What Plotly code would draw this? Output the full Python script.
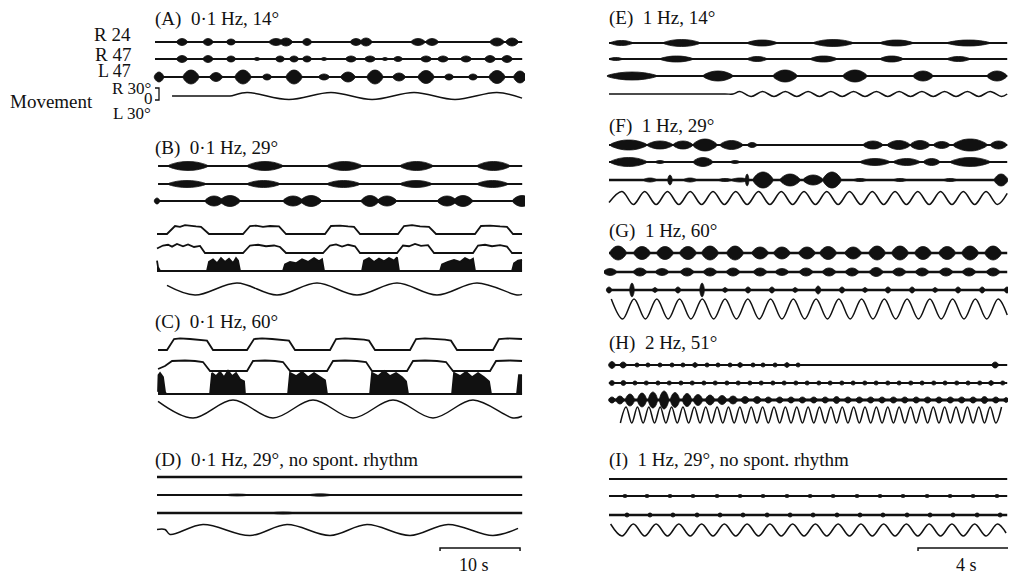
import plotly.graph_objects as go

# ============================ DATA ============================
# Burst traces : (centre time s, half-width s, envelope amplitude)
# Level traces : (time s, level 0..1)
# Movement     : (time s, normalised displacement, +1 = towards R)

# ---- (A) 0·1 Hz, 14° ----
A_SPAN = (0.0, 45.9)
A_R24 = [(3.38,0.7,3.5),(6.63,0.65,3.5),(9.5,0.6,3),(15.13,0.9,3.5),(16.38,0.8,4),(19.0,0.6,3.5),
         (25.13,0.75,3.5),(26.38,0.75,4),(32.88,0.9,3.5),(34.63,0.8,3.5),(42.75,0.9,4),(44.63,0.8,4)]
A_R47 = [(3.38,0.7,3.5),(6.63,0.65,3.5),(9.5,0.6,3),(12.75,0.4,1.5),(15.63,0.6,3),(17.38,0.6,3),
         (19.0,0.6,3),(21.13,0.4,1.5),(24.5,0.7,3),(26.88,0.7,3),(28.75,0.4,1.5),(30.38,0.6,2.5),
         (33.88,0.7,3),(36.0,0.7,3),(38.88,0.7,3),(41.88,0.7,3.5),(44.0,0.7,3.5)]
A_L47 = [(0.5,0.6,5),(4.5,1.0,7),(7.63,0.8,4.5),(11.0,1.0,7),(14.0,0.6,3),(17.38,1.0,7),(21.13,0.7,3),
         (24.13,0.9,5),(27.5,1.0,7),(30.5,0.8,4),(33.88,1.0,6.5),(36.75,0.6,3),(39.75,0.6,3),
         (42.75,1.0,6.5),(45.63,0.8,6)]
A_MOV = [(2.13,0),(8.8,0),(9.38,0),(11.5,1),(16.75,-1),(22.0,1),(27.13,-1),(32.38,1),(37.5,-1),(42.75,1),(45.88,-0.6)]

# ---- (B) 0·1 Hz, 29° ----
B_SPAN = (0.38, 45.9)
B_R24 = [(4.13,2.5,4.5),(13.75,2.25,4.5),(23.69,2.19,4.5),(32.69,2.06,4.5),(42.31,2.06,4.5)]
B_R47 = [(4.0,2.38,3.5),(13.56,2.06,3.5),(23.56,2.06,3.5),(32.63,2.0,3.5),(42.19,1.94,3.5)]
B_L47 = [(0.25,0.35,3),(7.38,1.13,5),(9.38,1.25,5.5),(17.25,1.25,5),(19.5,1.3,5.5),(26.88,1.1,5.5),
         (29.0,1.2,5),(36.5,1.2,5),(38.5,1.2,5.5),(45.88,1.2,5.5)]
B_AN1 = [(0.25,0),(1.5,0),(2.5,1),(3.13,0.9),(3.75,1.1),(4.38,1.0),(5.13,0.95),(5.75,0.9),(6.75,0),
         (11.0,0),(11.88,1),(12.63,1.05),(13.5,0.9),(14.38,1.0),(15.5,0.95),(16.38,0),
         (21.25,0),(22.0,1),(23.13,1.05),(24.13,0.95),(24.88,0.9),(25.63,0),
         (30.38,0),(31.13,1),(32.13,1.1),(33.13,0.95),(34.25,0.9),(35.13,0),
         (40.0,0),(40.75,1),(41.88,1.05),(43.13,0.95),(44.0,0.9),(44.75,0),(45.88,0)]
B_AN2 = [(0.25,0.6),(1.0,1),(1.63,1.1),(2.13,0.85),(2.75,1.2),(3.5,0.9),(4.13,1.15),(4.88,0.8),(5.63,0.95),(6.25,0),
         (11.0,0),(11.88,1),(12.88,1.1),(13.88,0.9),(14.88,1.0),(15.63,0.8),(16.38,0),
         (21.0,0),(21.88,1),(22.63,1.15),(23.38,0.85),(24.13,1.1),(25.0,0.9),(25.63,0),
         (30.25,0),(31.0,1),(31.75,0.9),(32.5,1.2),(33.25,0.95),(34.13,1.05),(34.88,0),
         (39.75,0),(40.38,1),(41.25,1.1),(42.13,0.9),(43.13,1.05),(44.0,0.85),(44.63,0),(45.88,0)]
B_AN3 = [(0.25,0.8),(0.38,0.3),(0.63,0),(6.5,0),(6.75,0.7),(7.25,0.9),(7.75,0.6),(8.25,1.0),(8.75,0.7),
         (9.25,0.95),(9.75,0.6),(10.13,1.0),(10.38,0.8),(10.63,0),
         (16.0,0),(16.25,0.5),(16.88,0.7),(17.63,0.6),(18.38,0.9),(19.13,0.7),(19.88,1.0),(20.5,0.75),(20.88,0.9),(21.13,0),
         (25.88,0),(26.13,0.8),(26.75,1.0),(27.38,0.7),(28.0,0.95),(28.63,0.75),(29.25,1.0),(29.88,0.8),(30.25,1.05),(30.5,0),
         (35.63,0),(35.88,0.5),(36.63,0.7),(37.38,0.85),(38.13,0.7),(38.75,1.0),(39.38,0.8),(39.75,0.95),(40.0,0),
         (44.63,0),(44.88,0.6),(45.38,0.8),(45.88,0.85)]
B_MOV = [(1.5,0.6),(5.0,-1),(10.25,1),(15.25,-1),(20.25,1),(25.25,-1),(30.25,1),(35.25,-1),(40.25,1),(45.25,-1),(45.88,-0.9)]

# ---- (C) 0·1 Hz, 60° ----
C_AN1 = [(0.38,0),(1.5,0),(2.38,1),(3.13,1.05),(4.38,1.0),(5.63,0.95),(6.5,0.85),(7.25,0),
         (11.5,0),(12.38,1),(13.38,1.05),(14.63,1.0),(15.88,0.95),(16.75,0.85),(17.5,0),
         (21.88,0),(22.63,1),(23.75,1.05),(25.0,1.0),(26.13,0.95),(26.75,0.85),(27.5,0),
         (31.88,0),(32.63,1),(33.75,1.05),(35.0,1.0),(36.25,0.95),(37.0,0.85),(37.75,0),
         (42.25,0),(43.0,1),(44.13,1.05),(45.88,1.0)]
C_AN2 = [(0.38,0.2),(1.25,0.5),(2.13,1),(3.75,1.05),(5.0,1.0),(6.0,0.9),(6.88,0),
         (11.5,0),(12.25,1),(13.75,1.05),(15.0,1.0),(16.0,0.9),(16.88,0),
         (21.5,0),(22.25,1),(23.75,1.05),(25.25,1.0),(26.38,0.9),(27.13,0),
         (31.5,0),(32.25,1),(33.75,1.05),(35.25,1.0),(36.38,0.9),(37.25,0),
         (41.88,0),(42.63,1),(44.38,1.05),(45.88,1.0)]
C_AN3 = [(0.38,0.1),(0.44,0.9),(0.63,1.0),(1.0,0.8),(1.25,0.1),(1.38,0),
         (6.88,0),(7.13,1.0),(7.63,0.85),(8.13,1.05),(8.63,0.8),(9.13,1.1),(9.63,0.85),(10.13,1.0),(10.63,0.7),(11.13,0.6),(11.25,0),
         (16.63,0),(16.88,1.0),(17.63,0.85),(18.38,1.05),(19.13,0.8),(19.88,1.0),(20.63,0.8),(21.25,0.65),(21.5,0),
         (26.88,0),(27.13,1.0),(27.88,0.85),(28.63,1.1),(29.38,0.85),(30.13,1.0),(30.88,0.8),(31.38,0.6),(31.63,0),
         (37.13,0),(37.38,1.0),(38.13,0.85),(38.88,1.05),(39.63,0.8),(40.38,1.0),(41.13,0.8),(41.75,0.6),(42.0,0),
         (45.25,0),(45.5,0.9),(45.88,0.9)]
C_MOV = [(0.38,0.85),(4.75,-1),(9.75,1),(14.75,-1),(19.75,1),(24.75,-1),(29.75,1),(34.75,-1),(39.75,1),(44.75,-1),(45.88,-0.8)]

# ---- (D) 0·1 Hz, 29°, no spont. rhythm ----
D_SPAN = (0.25, 45.9)
D_R24 = []
D_R47 = [(10.25,1.5,1.0),(20.63,1.5,1.2)]
D_L47 = [(16.0,1.5,1.0)]
D_MOV = [(0.25,0.1),(1.25,0.1),(1.88,-0.8),(6.0,1),(11.88,-1),(16.5,1),(21.88,-1),(26.5,1),(31.88,-1),
         (36.63,1),(42.25,-1),(45.38,0.3)]

# ---- (E) 1 Hz, 14° ----
R_SPAN = (0.0, 17.5)
E_R24 = [(0.55,0.5,2.5),(3.19,0.81,3.5),(6.73,0.66,3),(9.85,0.88,3.5),(12.64,0.73,3),(15.8,0.95,3)]
E_R47 = [(0.3,0.3,1.5),(2.97,0.73,3),(6.51,0.44,2.5),(9.43,0.59,3),(12.42,0.51,3),(15.36,0.51,2.5)]
E_L47 = [(1.01,1.1,4),(4.79,0.66,5),(7.74,0.53,6),(10.81,0.53,6),(13.8,0.44,5),(17.05,0.44,5)]
E_MOV = [(0,0),(5.1,0),(5.45,0),(5.75,1),(6.25,-1),(6.75,1),(7.25,-1),(7.75,1),(8.25,-1),(8.75,1),(9.25,-1),(9.75,1),
         (10.25,-1),(10.75,1),(11.25,-1),(11.75,1),(12.25,-1),(12.75,1),(13.25,-1),(13.75,1),(14.25,-1),
         (14.75,1),(15.25,-1),(15.75,1),(16.25,-1),(16.75,1),(17.25,-1),(17.5,0)]

# ---- (F) 1 Hz, 29° ----
F_R24 = [(0.86,0.81,5),(2.24,0.57,4),(3.25,0.44,4),(4.22,0.53,6),(5.38,0.51,4.5),(6.29,0.22,2.5),
         (11.6,0.44,4),(12.73,0.51,4.5),(13.67,0.44,4.5),(14.62,0.37,3.5),(15.87,0.75,6),(17.12,0.37,4)]
F_R47 = [(0.86,0.81,4.5),(2.24,0.22,1.5),(4.13,0.44,4.5),(5.54,0.22,1.5),(11.69,0.66,3.5),(13.08,0.59,3.5),
         (14.18,0.37,3.5),(15.87,0.88,4.5)]
F_L47 = [(1.8,0.3,2),(2.68,0.1,5),(3.56,0.3,2),(5.1,0.3,1.5),(5.76,0.4,2),(6.07,0.08,6),(6.77,0.44,8),
         (7.96,0.44,6),(8.97,0.44,5),(9.8,0.4,8),(11.03,0.3,1.5),(12.79,0.3,1.5),(14.99,0.3,1.5),(17.23,0.3,6)]
F_MOV = [(0.0,-0.7),(0.57,1),(1.07,-1),(1.57,1),(2.07,-1),(2.57,1),(3.07,-1),(3.57,1),(4.07,-1),(4.57,1),
         (5.07,-1),(5.57,1),(6.07,-1),(6.57,1),(7.07,-1),(7.57,1),(8.07,-1),(8.57,1),(9.07,-1),(9.57,1),
         (10.07,-1),(10.57,1),(11.07,-1),(11.57,1),(12.07,-1),(12.57,1),(13.07,-1),(13.57,1),(14.07,-1),
         (14.57,1),(15.07,-1),(15.57,1),(16.07,-1),(16.57,1),(17.07,-1),(17.5,0.7)]

# ---- (G) 1 Hz, 60° ----
G_R24 = [(0.40,0.36,7),(1.45,0.36,6.5),(2.46,0.36,6.5),(3.47,0.36,6.5),(4.44,0.36,7),(5.54,0.36,7),
         (6.64,0.36,6),(7.60,0.36,6),(8.70,0.36,6),(9.63,0.36,6.5),(10.73,0.36,6),(11.78,0.36,7),
         (12.79,0.36,7),(13.80,0.36,6.5),(14.86,0.36,6.5),(15.87,0.36,7),(16.88,0.36,7)]
G_R47 = [(0.05,0.3,3.5),(1.36,0.3,4),(2.33,0.3,3.5),(3.43,0.3,4),(4.44,0.3,4),(5.45,0.3,4),(6.64,0.3,4),
         (7.6,0.3,3.5),(8.66,0.3,4),(9.67,0.3,4),(10.68,0.3,4),(11.74,0.3,4.5),(12.75,0.3,4),(13.76,0.3,4),
         (14.81,0.3,4),(15.82,0.3,4),(16.88,0.3,4)]
G_L47 = [(0.0,0.12,3),(1.01,0.1,7),(2.02,0.12,2.5),(3.03,0.12,3),(4.09,0.1,7),(5.1,0.12,2.5),(6.11,0.12,3),
         (7.16,0.12,3),(8.18,0.12,2.5),(9.19,0.12,4),(10.24,0.12,3),(11.25,0.12,2.5),(12.26,0.12,3),
         (13.32,0.12,3),(14.33,0.12,2.5),(15.34,0.12,3),(16.4,0.12,3),(17.49,0.12,3)]
G_MOV = [(0.1,1),(0.6,-1),(1.1,1),(1.6,-1),(2.1,1),(2.6,-1),(3.1,1),(3.6,-1),(4.1,1),(4.6,-1),(5.1,1),(5.6,-1),
         (6.1,1),(6.6,-1),(7.1,1),(7.6,-1),(8.1,1),(8.6,-1),(9.1,1),(9.6,-1),(10.1,1),(10.6,-1),(11.1,1),
         (11.6,-1),(12.1,1),(12.6,-1),(13.1,1),(13.6,-1),(14.1,1),(14.6,-1),(15.1,1),(15.6,-1),(16.1,1),
         (16.6,-1),(17.1,1),(17.5,-0.6)]

# ---- (H) 2 Hz, 51° ----
H_R24 = [(0.13,0.15,3.5),(0.62,0.15,3),(1.23,0.12,2),(1.71,0.12,2),(2.24,0.12,2),(2.77,0.12,2),(3.25,0.12,2),
         (3.78,0.12,2.5),(4.31,0.12,2),(4.79,0.12,2),(5.32,0.12,2),(5.76,0.12,2.5),(6.33,0.12,2),(6.77,0.12,2),
         (7.3,0.12,2),(7.82,0.12,2.5),(8.31,0.12,2),(16.97,0.15,3)]
H_R47 = [(0.13,0.13,2.5),(0.63,0.13,2.5),(1.14,0.12,2),(1.64,0.12,2),(2.15,0.12,2),(2.65,0.12,2),(3.16,0.12,2),
         (3.66,0.12,2),(4.17,0.12,2),(4.67,0.12,2),(5.18,0.12,2),(5.68,0.12,2),(6.19,0.12,2),(6.69,0.12,2),
         (7.2,0.12,2),(7.7,0.12,2),(8.21,0.12,2),(8.71,0.12,2),(9.22,0.12,2),(9.72,0.12,2),(10.23,0.12,2),
         (10.73,0.12,2),(11.24,0.12,2),(11.74,0.12,2),(12.25,0.12,2),(12.75,0.12,2),(13.26,0.12,2),
         (13.76,0.12,2),(14.27,0.12,2),(14.77,0.12,2),(15.28,0.12,2),(15.78,0.12,2),(16.29,0.12,2),
         (16.79,0.12,2.5),(17.3,0.12,2)]
H_L47 = [(0.13,0.15,3),(0.48,0.18,4),(0.92,0.2,6),(1.45,0.2,7),(1.93,0.2,8),(2.42,0.2,9),(2.9,0.2,7.5),
         (3.43,0.2,6.5),(3.91,0.2,5.5),(4.44,0.2,5),(4.97,0.2,4.5),(5.45,0.2,4),(5.98,0.18,3.5),(6.51,0.18,3.5),
         (7.0,0.16,3),(7.5,0.16,3),(8.0,0.16,3),(8.5,0.16,3),(9.0,0.16,3),(9.5,0.16,3),(10.0,0.16,3.5),
         (10.5,0.16,3),(11.0,0.16,3),(11.5,0.16,3),(12.0,0.16,3),(12.5,0.16,3),(13.0,0.16,3),(13.5,0.16,3),
         (14.0,0.16,3),(14.5,0.16,3),(15.0,0.16,3),(15.5,0.16,3),(16.0,0.16,3),(16.5,0.16,3.5),(17.0,0.16,3),
         (17.45,0.12,2.5)]
H_MOV = [(0.5,-1),(0.75,1),(1.0,-1),(1.25,1),(1.5,-1),(1.75,1),(2.0,-1),(2.25,1),(2.5,-1),(2.75,1),(3.0,-1),
         (3.25,1),(3.5,-1),(3.75,1),(4.0,-1),(4.25,1),(4.5,-1),(4.75,1),(5.0,-1),(5.25,1),(5.5,-1),(5.75,1),
         (6.0,-1),(6.25,1),(6.5,-1),(6.75,1),(7.0,-1),(7.25,1),(7.5,-1),(7.75,1),(8.0,-1),(8.25,1),(8.5,-1),
         (8.75,1),(9.0,-1),(9.25,1),(9.5,-1),(9.75,1),(10.0,-1),(10.25,1),(10.5,-1),(10.75,1),(11.0,-1),
         (11.25,1),(11.5,-1),(11.75,1),(12.0,-1),(12.25,1),(12.5,-1),(12.75,1),(13.0,-1),(13.25,1),(13.5,-1),
         (13.75,1),(14.0,-1),(14.25,1),(14.5,-1),(14.75,1),(15.0,-1),(15.25,1),(15.5,-1),(15.75,1),(16.0,-1),
         (16.25,1),(16.5,-1),(16.75,1),(17.0,-1),(17.25,1)]

# ---- (I) 1 Hz, 29°, no spont. rhythm ----
I_R24 = []
I_R47 = [(0.7,0.12,1.5),(1.67,0.12,1.5),(2.68,0.12,1.5),(3.69,0.12,1.5),(4.75,0.12,1.5),(5.76,0.12,1.5),
         (6.77,0.12,1.5),(7.82,0.12,1.5),(8.84,0.12,1.5),(9.85,0.12,1.5),(10.9,0.12,1.5),(11.91,0.12,1.5),
         (12.92,0.12,1.5),(13.98,0.12,1.5),(14.99,0.12,1.5),(16.0,0.12,1.5),(17.05,0.12,1.5)]
I_L47 = [(0.79,0.12,2),(1.8,0.12,2),(2.81,0.12,2),(3.87,0.12,2),(4.88,0.12,2),(5.89,0.12,2),(6.95,0.12,2),
         (7.96,0.12,2),(8.97,0.12,2),(10.02,0.12,2),(11.03,0.12,2),(12.04,0.12,2),(13.1,0.12,2),
         (14.11,0.12,2),(15.12,0.12,2),(16.18,0.12,2),(17.19,0.12,2)]
I_MOV = [(0.07,1),(0.57,-1),(1.07,1),(1.57,-1),(2.07,1),(2.57,-1),(3.07,1),(3.57,-1),(4.07,1),(4.57,-1),
         (5.07,1),(5.57,-1),(6.07,1),(6.57,-1),(7.07,1),(7.57,-1),(8.07,1),(8.57,-1),(9.07,1),(9.57,-1),
         (10.07,1),(10.57,-1),(11.07,1),(11.57,-1),(12.07,1),(12.57,-1),(13.07,1),(13.57,-1),(14.07,1),
         (14.57,-1),(15.07,1),(15.57,-1),(16.07,1),(16.57,-1),(17.07,1),(17.45,-0.5)]

# Time-scale bars (s)
SCALE_LEFT_S = 10
SCALE_RIGHT_S = 4

TITLES = {
    "A": "(A)  0·1 Hz, 14°", "B": "(B)  0·1 Hz, 29°", "C": "(C)  0·1 Hz, 60°",
    "D": "(D)  0·1 Hz, 29°, no spont. rhythm",
    "E": "(E)  1 Hz, 14°", "F": "(F)  1 Hz, 29°", "G": "(G)  1 Hz, 60°", "H": "(H)  2 Hz, 51°",
    "I": "(I)  1 Hz, 29°, no spont. rhythm",
}

# ============================ LAYOUT ============================
# The page body keeps the browser's default 8 px margin, so the figure is
# made 8 px smaller each way and positions below are given in page pixels.
PAGE_W, PAGE_H, OFF = 1016, 576, 8
W, H = PAGE_W - OFF, PAGE_H - OFF
FONT = "Liberation Serif"
BLACK = "#111111"


def fx(px):
    return (px - OFF) / W


def fy(py):
    return 1 - (py - OFF) / H


fig = go.Figure()

SPINDLE = [(-1, 0), (-0.5, 0.8), (0, 1), (0.5, 0.8), (1, 0), (0.5, -0.8), (0, -1), (-0.5, -0.8), (-1, 0)]


def _ax(side):
    return ("x", "y") if side == "L" else ("x2", "y2")


def burst_row(side, span, bursts, base, lw=2.0):
    xa, ya = _ax(side)
    fig.add_trace(go.Scatter(x=list(span), y=[base, base], mode="lines", xaxis=xa, yaxis=ya,
                             line=dict(color=BLACK, width=lw), hoverinfo="skip"))
    if not bursts:
        return
    xs, ys = [], []
    for tc, hw, a in bursts:
        for sx, sy in SPINDLE:
            xs.append(tc + sx * hw)
            ys.append(base - sy * a)
        xs.append(None)
        ys.append(None)
    fig.add_trace(go.Scatter(x=xs, y=ys, mode="lines", fill="toself", fillcolor=BLACK, xaxis=xa, yaxis=ya,
                             line=dict(color=BLACK, width=0.8, shape="spline"), hoverinfo="skip"))


def level_row(side, pts, base, amp, filled=False, lw=1.8):
    xa, ya = _ax(side)
    xs = [p[0] for p in pts]
    ys = [base - p[1] * amp for p in pts]
    if filled:
        fig.add_trace(go.Scatter(x=[xs[0], xs[-1]], y=[base, base], mode="lines", xaxis=xa, yaxis=ya,
                                 line=dict(color=BLACK, width=lw), hoverinfo="skip"))
    fig.add_trace(go.Scatter(x=xs, y=ys, mode="lines", xaxis=xa, yaxis=ya,
                             fill="tonexty" if filled else None, fillcolor=BLACK,
                             line=dict(color=BLACK, width=lw), hoverinfo="skip"))


def wave_row(side, pts, base, amp, lw=1.5):
    xa, ya = _ax(side)
    fig.add_trace(go.Scatter(x=[p[0] for p in pts], y=[base - p[1] * amp for p in pts], mode="lines",
                             xaxis=xa, yaxis=ya, line=dict(color=BLACK, width=lw, shape="spline", smoothing=1.0),
                             hoverinfo="skip"))


# ---- left column ----
burst_row("L", A_SPAN, A_R24, 42)
burst_row("L", A_SPAN, A_R47, 59)
burst_row("L", A_SPAN, A_L47, 77)
wave_row("L", A_MOV, 96, 3.5)

burst_row("L", B_SPAN, B_R24, 166)
burst_row("L", B_SPAN, B_R47, 184)
burst_row("L", B_SPAN, B_L47, 201)
level_row("L", B_AN1, 234, 8)
level_row("L", B_AN2, 253, 7.5)
level_row("L", B_AN3, 271, 13, filled=True)
wave_row("L", B_MOV, 289, 6)

level_row("L", C_AN1, 350, 11)
level_row("L", C_AN2, 371, 10)
level_row("L", C_AN3, 394, 21, filled=True)
wave_row("L", C_MOV, 409, 9)

burst_row("L", D_SPAN, D_R24, 477, lw=2.4)
burst_row("L", D_SPAN, D_R47, 495, lw=2.2)
burst_row("L", D_SPAN, D_L47, 513, lw=2.6)
wave_row("L", D_MOV, 530, 5.5)

# ---- right column ----
burst_row("R", R_SPAN, E_R24, 43)
burst_row("R", R_SPAN, E_R47, 59)
burst_row("R", R_SPAN, E_L47, 76)
wave_row("R", E_MOV, 94, 2.5)

burst_row("R", R_SPAN, F_R24, 145)
burst_row("R", R_SPAN, F_R47, 162)
burst_row("R", R_SPAN, F_L47, 180, lw=2.4)
wave_row("R", F_MOV, 198, 6.5)

burst_row("R", R_SPAN, G_R24, 253, lw=2.4)
burst_row("R", R_SPAN, G_R47, 272, lw=2.4)
burst_row("R", R_SPAN, G_L47, 290, lw=2.6)
wave_row("R", G_MOV, 309, 10)

burst_row("R", R_SPAN, H_R24, 365)
burst_row("R", R_SPAN, H_R47, 383)
burst_row("R", R_SPAN, H_L47, 400, lw=2.8)
wave_row("R", H_MOV, 415, 8)

burst_row("R", R_SPAN, I_R24, 479)
burst_row("R", R_SPAN, I_R47, 496, lw=2.2)
burst_row("R", R_SPAN, I_L47, 515, lw=2.4)
wave_row("R", I_MOV, 530, 6)

# ---- time-scale bars ----
L_BAR_END, R_BAR_END, BAR_Y = 45.63, 17.58, 548
for side, end, length in (("L", L_BAR_END, SCALE_LEFT_S), ("R", R_BAR_END, SCALE_RIGHT_S)):
    xa, ya = _ax(side)
    fig.add_trace(go.Scatter(x=[end - length, end - length, end, end], y=[BAR_Y + 3, BAR_Y, BAR_Y, BAR_Y + 3],
                             mode="lines", xaxis=xa, yaxis=ya, line=dict(color=BLACK, width=1.5),
                             hoverinfo="skip"))

# ---- text ----
annotations = []


def text(t, px, py, anchor="left", size=19):
    annotations.append(dict(text=t, x=fx(px), y=fy(py), xref="paper", yref="paper", showarrow=False,
                            xanchor=anchor, yanchor="middle", borderpad=0,
                            font=dict(family=FONT, size=size, color=BLACK)))


title_pos = {"A": (154, 19), "B": (154, 148), "C": (154, 322), "D": (154, 460),
             "E": (608, 18), "F": (608, 126), "G": (608, 231), "H": (608, 343), "I": (608, 460)}
for k, (px, py) in title_pos.items():
    text(TITLES[k], px, py)

text("R 24", 132, 35, "right")
text("R 47", 132, 54, "right")
text("L 47", 132, 71, "right", 18)
text("R 30°", 152, 88, "right", 17)
text("0", 154, 98, "right", 17)
text("L 30°", 152, 113, "right", 17)
text("Movement", 9, 101, "left")
text("10 s", 474, 565, "center", 18)
text("4 s", 966, 565, "center", 18)

shapes = [dict(type="path", xref="paper", yref="paper",
               path=f"M {fx(155)} {fy(88)} L {fx(159)} {fy(88)} L {fx(159)} {fy(100)} L {fx(155)} {fy(100)}",
               line=dict(color=BLACK, width=1.3))]

fig.update_layout(
    width=W, height=H, autosize=False, margin=dict(l=0, r=0, t=0, b=0),
    paper_bgcolor="white", plot_bgcolor="white", showlegend=False,
    xaxis=dict(domain=[fx(150), fx(525)], range=[-0.625, 46.25], visible=False),
    yaxis=dict(domain=[0, 1], range=[PAGE_H, OFF], visible=False),
    xaxis2=dict(domain=[fx(604), fx(1012)], range=[-0.22, 17.71], visible=False, anchor="y2"),
    yaxis2=dict(domain=[0, 1], range=[PAGE_H, OFF], visible=False, anchor="x2"),
    annotations=annotations, shapes=shapes,
)

fig.write_html("out.html")
